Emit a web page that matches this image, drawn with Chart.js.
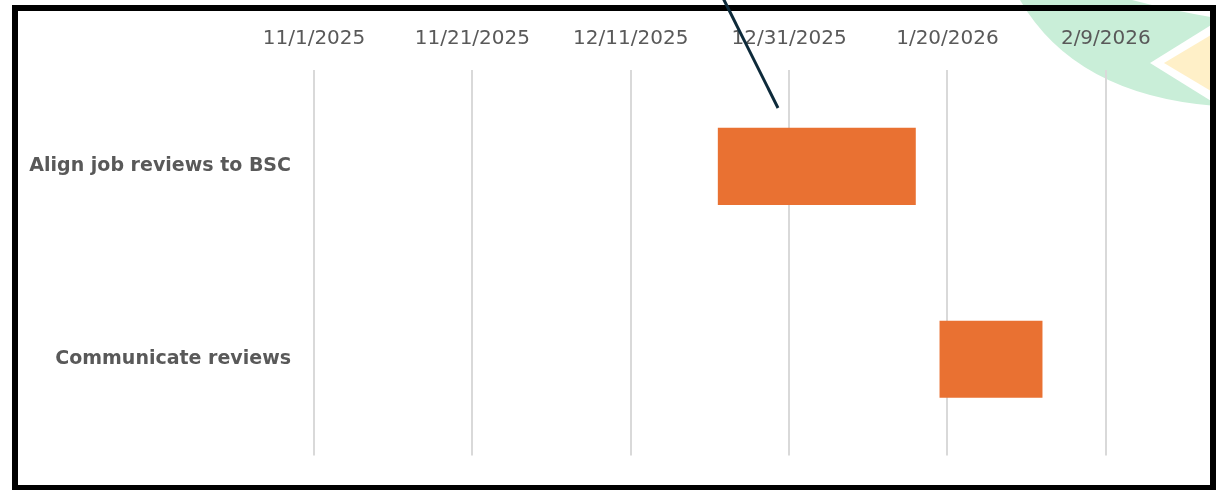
<!DOCTYPE html>
<html lang="en">
<head>
    <meta charset="UTF-8">
    <title>Task timeline</title>
    <script src="https://cdn.jsdelivr.net/npm/chart.js@4"></script>
    <style>
        html, body { margin: 0; padding: 0; background: #fff; }
        #wrap { position: relative; width: 1216px; height: 490px; overflow: hidden; }
        #deco, #pointer { position: absolute; left: 0; top: 0; }
        #frame {
            position: absolute; left: 12px; top: 5px; width: 1204px; height: 486px;
            border: 6px solid #000; box-sizing: border-box;
        }
        #chartBox { position: absolute; left: 0; top: 0; width: 1216px; height: 490px; }
    </style>
</head>
<body>
<div id="wrap">
    <!-- background artwork peeking in at top right -->
    <svg id="deco" width="1216" height="490">
        <path d="M1020,0 Q1075,95 1216,106 L1216,18 Q1170,10 1132,0 Z" fill="#c9eed8"/>
        <path d="M1150,63 L1216,22 L1216,104 Z" fill="#fff"/>
        <path d="M1164,63 L1216,32 L1216,94 Z" fill="#fff0c8"/>
    </svg>
    <div id="frame"></div>
    <div id="chartBox"><canvas id="gantt"></canvas></div>
    <svg id="pointer" width="1216" height="490">
        <line x1="722" y1="-4" x2="778" y2="108" stroke="#0d2a3a" stroke-width="3"/>
    </svg>
</div>
<script>
    const tasks = ['Align job reviews to BSC', 'Communicate reviews'];
    const startDates = ['2025-12-22', '2026-01-19'];
    const endDates = ['2026-01-16', '2026-02-01'];
    const tickDates = ['2025-11-01', '2025-11-21', '2025-12-11', '2025-12-31', '2026-01-20', '2026-02-09'];
    const axisMin = '2025-11-01';
    const axisMax = '2026-02-19';

    const DAY = 86400000;
    function toDay(s) {
        const p = s.split('-').map(Number);
        return Date.UTC(p[0], p[1] - 1, p[2]) / DAY;
    }
    function fmtDay(d) {
        const dt = new Date(d * DAY);
        return (dt.getUTCMonth() + 1) + '/' + dt.getUTCDate() + '/' + dt.getUTCFullYear();
    }

    const ctx = document.getElementById('gantt').getContext('2d');
    new Chart(ctx, {
        type: 'bar',
        data: {
            labels: tasks,
            datasets: [{
                data: tasks.map((t, i) => [toDay(startDates[i]), toDay(endDates[i])]),
                backgroundColor: '#E97132',
                borderWidth: 0,
                barPercentage: 0.4,
                categoryPercentage: 1
            }]
        },
        options: {
            indexAxis: 'y',
            responsive: true,
            maintainAspectRatio: false,
            animation: false,
            layout: { padding: { left: 0, right: 31, top: 0, bottom: 33 } },
            plugins: { legend: { display: false }, tooltip: { enabled: false } },
            scales: {
                x: {
                    type: 'linear',
                    position: 'top',
                    min: toDay(axisMin),
                    max: toDay(axisMax),
                    afterBuildTicks: axis => {
                        axis.ticks = tickDates.map(d => ({ value: toDay(d) }));
                    },
                    afterFit: axis => { axis.height = 70; },
                    ticks: {
                        callback: v => fmtDay(v),
                        color: '#595959',
                        font: { family: 'DejaVu Sans', size: 20 },
                        padding: 19,
                        maxRotation: 0,
                        autoSkip: false
                    },
                    grid: { color: '#d9d9d9', lineWidth: 2, drawTicks: false },
                    border: { display: false }
                },
                y: {
                    afterFit: axis => { axis.width = 314; },
                    ticks: {
                        color: '#595959',
                        font: { family: 'DejaVu Sans', size: 19, weight: 'bold' },
                        padding: 23
                    },
                    grid: { display: false, drawTicks: false },
                    border: { display: false }
                }
            }
        }
    });
</script>
</body>
</html>
